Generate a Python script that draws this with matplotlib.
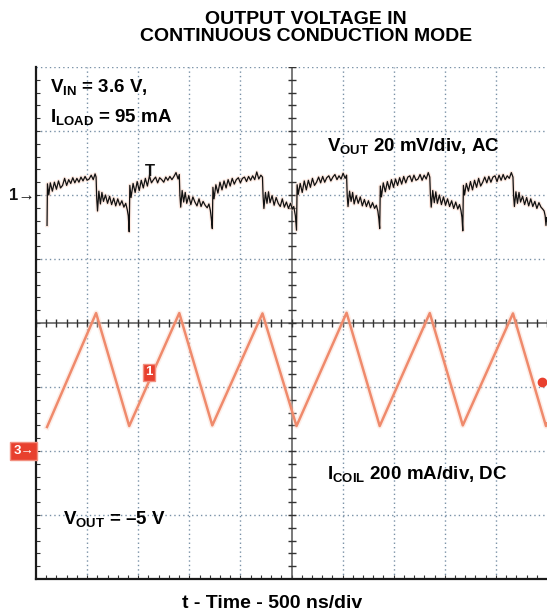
import numpy as np
import matplotlib
matplotlib.use("Agg")
import matplotlib.pyplot as plt

plt.rcParams['font.family'] = ['Liberation Sans', 'DejaVu Sans']
plt.rcParams['mathtext.fontset'] = 'custom'
plt.rcParams['mathtext.rm'] = 'Liberation Sans'
plt.rcParams['mathtext.bf'] = 'Liberation Sans:bold'

# ---------------- data ----------------
# time in ns (500 ns/div), screen spans 0..5000 ns
# Channel 1: VOUT ripple (mV, AC coupled, 20 mV/div, ref at +2 div)
vout_t = [108, 112, 125, 140, 160, 180, 200, 220, 240, 260, 280, 300, 320, 340, 360, 380,
          400, 420, 440, 460, 480, 500, 520, 540, 560, 578, 588,
          594, 602, 615, 630, 645, 660, 680, 700, 720, 740, 760, 780, 800, 820, 840, 860,
          878, 893, 903, 912,
          918, 930, 950, 970, 990, 1010, 1030, 1050, 1070, 1090, 1110, 1130, 1150, 1170,
          1190, 1210, 1230, 1250, 1270, 1290, 1310, 1330, 1350, 1370, 1390, 1402,
          1408, 1416, 1430, 1445, 1460, 1475, 1495, 1515, 1535, 1555, 1575, 1595, 1615,
          1635, 1655, 1675, 1692, 1706, 1716, 1725,
          1731, 1742, 1760, 1780, 1800, 1820, 1840, 1860, 1880, 1900, 1920, 1940, 1960,
          1980, 2000, 2020, 2040, 2060, 2080, 2100, 2120, 2140, 2160, 2180, 2200, 2216,
          2222, 2230, 2245, 2260, 2275, 2290, 2310, 2330, 2350, 2370, 2390, 2410, 2430,
          2450, 2470, 2490, 2508, 2522, 2538, 2549,
          2555, 2566, 2585, 2605, 2625, 2645, 2665, 2685, 2705, 2725, 2745, 2765, 2785,
          2805, 2825, 2845, 2865, 2885, 2905, 2925, 2945, 2965, 2985, 3005, 3025, 3039,
          3045, 3053, 3068, 3083, 3098, 3113, 3133, 3153, 3173, 3193, 3213, 3233, 3253,
          3273, 3293, 3313, 3330, 3345, 3355, 3363,
          3369, 3380, 3398, 3418, 3438, 3458, 3478, 3498, 3518, 3538, 3558, 3578, 3598,
          3618, 3638, 3658, 3678, 3698, 3718, 3738, 3758, 3778, 3798, 3818, 3838, 3853,
          3859, 3867, 3882, 3897, 3912, 3927, 3947, 3967, 3987, 4007, 4027, 4047, 4067,
          4087, 4107, 4127, 4144, 4158, 4168, 4176,
          4182, 4193, 4211, 4231, 4251, 4271, 4291, 4311, 4331, 4351, 4371, 4391, 4411,
          4431, 4451, 4471, 4491, 4511, 4531, 4551, 4571, 4591, 4611, 4631, 4651, 4667,
          4673, 4681, 4696, 4711, 4726, 4741, 4761, 4781, 4801, 4821, 4841, 4861, 4881,
          4901, 4921, 4941, 4958, 4972, 4982, 4990, 4996, 5000]
vout_mv = [-9.5, 3.5, 0.0, 3.8, 1.2, 4.0, 1.8, 4.4, 2.2, 3.0, 5.2, 3.0, 4.8, 3.6, 5.4, 3.8,
           5.2, 4.0, 5.6, 4.4, 5.8, 4.6, 5.0, 6.2, 4.8, 6.6, 5.6,
           -1.0, -5.0, 1.2, -2.8, 0.8, -2.0, 0.0, -2.6, -0.4, -3.0, -1.0, -3.4, -1.2, -3.2,
           -1.8, -3.8, -2.6, -4.6, -6.5, -11.5,
           3.0, -0.8, 3.6, 0.8, 4.2, 1.4, 4.6, 2.2, 5.2, 2.8, 6.0, 3.8, 4.8, 5.6, 3.8,
           5.4, 4.8, 4.0, 5.6, 4.6, 5.8, 4.8, 5.8, 7.0, 5.0, 6.4,
           0.0, -3.8, 1.4, -2.2, 0.8, -2.6, -0.2, -3.0, -0.6, -2.2, -3.4, -1.2, -3.6,
           -2.0, -3.2, -4.0, -2.8, -4.8, -7.5, -10.5,
           2.4, -1.2, 3.2, 0.6, 4.0, 1.6, 4.4, 2.2, 4.8, 2.8, 5.2, 3.4, 4.8,
           5.4, 3.8, 5.2, 5.6, 4.2, 5.8, 4.6, 6.0, 4.8, 7.2, 5.0, 6.2, 5.6,
           -0.4, -4.2, 0.8, -2.6, 1.0, -2.4, -0.2, -3.2, -0.8, -2.6, -3.6, -1.2, -3.8,
           -2.2, -4.2, -2.6, -4.4, -3.6, -6.5, -11.0,
           3.2, 0.2, 3.6, 0.8, 4.4, 1.6, 4.6, 2.4, 5.2, 3.0, 4.0, 5.6, 3.8,
           5.8, 4.0, 5.4, 6.0, 4.4, 5.6, 6.4, 4.8, 6.0, 5.0, 6.8, 5.2, 6.2,
           -0.2, -3.6, 1.2, -2.0, 0.8, -2.8, -0.2, -2.6, -0.6, -3.4, -1.4, -3.6, -1.8,
           -4.0, -2.4, -4.2, -3.2, -5.0, -7.5, -10.5,
           2.8, -0.6, 3.8, 1.0, 4.2, 1.8, 4.8, 2.4, 5.0, 3.0, 5.4, 3.4, 5.8,
           3.8, 5.6, 6.0, 4.2, 6.2, 4.6, 5.0, 6.4, 4.6, 6.2, 5.0, 7.0, 5.6,
           0.2, -3.8, 1.4, -2.4, 1.0, -2.6, 0.0, -3.0, -0.6, -3.2, -1.2, -3.6, -1.8,
           -4.2, -2.2, -4.4, -3.0, -4.8, -7.0, -11.2,
           3.0, 0.0, 3.6, 1.2, 4.2, 1.6, 4.6, 2.4, 5.2, 2.8, 4.0, 5.6, 3.8,
           5.8, 4.0, 5.6, 6.0, 4.2, 6.2, 4.6, 6.4, 4.8, 6.0, 5.2, 7.0, 5.6,
           -0.2, -3.6, 1.0, -2.6, 0.8, -2.2, -0.4, -3.0, -0.8, -3.4, -1.2, -3.6, -2.0,
           -4.2, -2.4, -3.8, -4.4, -5.0, -6.5, -9.5, -7.0, -8.0]

# Channel 3: inductor current (mA, DC coupled, 200 mA/div, ref at -2 div)
coil_t = [108, 588, 912, 1402, 1725, 2216, 2549, 3039, 3363, 3853, 4176, 4667, 4990, 5000]
coil_ma = [75, 431, 78, 431, 80, 430, 78, 432, 78, 431, 80, 430, 78, 86]

# scope settings
t_per_div = 500.0
ch1_mv_per_div, ch1_ref_div = 20.0, 2.0
ch3_ma_per_div, ch3_ref_div = 200.0, -2.0

title = "OUTPUT VOLTAGE IN\nCONTINUOUS CONDUCTION MODE"
xlabel = "t - Time - 500 ns/div"

# ---------------- figure ----------------
W, H = 547, 616
fig = plt.figure(figsize=(W / 100, H / 100), dpi=100)
L, R, T, B = 36, 547, 67, 579
ax = fig.add_axes([L / W, 1 - B / H, (R - L) / W, (B - T) / H])
ax.set_xlim(0, 10 * t_per_div)
ax.set_ylim(-4, 4)

grid_col = '#7890a6'
for k in range(1, 10):
    if k != 5:
        ax.axvline(k * t_per_div, color=grid_col, lw=1.0, ls=(0, (1, 2.2)), zorder=1)
for k in range(-3, 5):
    if k != 0:
        ax.axhline(k, color=grid_col, lw=1.0, ls=(0, (1, 2.2)), zorder=1)

# center crosshair with minor ticks
ax.axhline(0, color='#555555', lw=1.1, zorder=2)
ax.axvline(5 * t_per_div, color='#555555', lw=1.1, zorder=2)
mx = np.arange(0, 10 * t_per_div + 1, t_per_div / 5)
my = np.arange(-4, 4.01, 0.2)
ax.plot(mx, np.zeros_like(mx), ls='none', marker='|', ms=6, mew=1.0, color='#333333', zorder=2)
ax.plot(np.full_like(my, 5 * t_per_div), my, ls='none', marker='_', ms=6, mew=1.0,
        color='#333333', zorder=2)

for s in ['top', 'right']:
    ax.spines[s].set_visible(False)
for s in ['left', 'bottom']:
    ax.spines[s].set_color('#1a1a1a')
    ax.spines[s].set_linewidth(1.6)
ax.set_xticks(mx[1:-1])
ax.set_yticks(my[1:-1])
ax.tick_params(direction='in', length=3, width=0.8, color='#333333',
               labelbottom=False, labelleft=False)

# traces
coil_div = ch3_ref_div + np.array(coil_ma) / ch3_ma_per_div
vout_div = ch1_ref_div + np.array(vout_mv) / ch1_mv_per_div
ax.plot(coil_t, coil_div, color='#fbd5c6', lw=4, alpha=0.4, zorder=3, solid_joinstyle='round')
ax.plot(coil_t, coil_div, color='#ef8a6c', lw=1.8, zorder=4, solid_joinstyle='round')
ax.plot(vout_t, vout_div, color='#f8d2c2', lw=2.6, alpha=0.5, zorder=4)
ax.plot(vout_t, vout_div, color='#111111', lw=0.9, zorder=5)

# trigger "T" marker on trace
ax.text(1115, 2.25, 'T', ha='center', va='bottom', fontsize=12, fontweight='bold',
        color='#111111', zorder=6)

# channel markers
ax.text(-0.003, ch1_ref_div, '1\u2192', transform=ax.get_yaxis_transform(), ha='right',
        va='center', fontsize=12, fontweight='bold', color='#111111', clip_on=False)
ax.text(-0.004, ch3_ref_div, '3\u2192', transform=ax.get_yaxis_transform(), ha='right',
        va='center', fontsize=9.5, fontweight='bold', color='white', clip_on=False,
        bbox=dict(boxstyle='square,pad=0.22', fc='#e8402e', ec='#f29080', lw=1))
ax.text(1106, -0.77, '1', ha='center', va='center', fontsize=9.5, fontweight='bold',
        color='white', zorder=7,
        bbox=dict(boxstyle='square,pad=0.2', fc='#e8402e', ec='#f29080', lw=1))
ax.plot([4951], [-0.92], marker='o', ms=6, color='#e8402e', clip_on=False, zorder=7)

# annotations
def fx(px):
    return (px - L) / (R - L)

def fy(py):
    return (B - py) / (B - T)

fs = 13.5
ax.text(fx(50), fy(93), r'$\mathbf{V}_{\mathbf{IN}}$ = 3.6 V,', transform=ax.transAxes,
        fontsize=fs, fontweight='bold', va='baseline', ha='left', zorder=8)
ax.text(fx(50), fy(123), r'$\mathbf{I}_{\mathbf{LOAD}}$ = 95 mA', transform=ax.transAxes,
        fontsize=fs, fontweight='bold', va='baseline', ha='left', zorder=8)
ax.text(fx(327), fy(152), r'$\mathbf{V}_{\mathbf{OUT}}$ 20 mV/div, AC', transform=ax.transAxes,
        fontsize=fs, fontweight='bold', va='baseline', ha='left', zorder=8)
ax.text(fx(327), fy(480), r'$\mathbf{I}_{\mathbf{COIL}}$ 200 mA/div, DC', transform=ax.transAxes,
        fontsize=fs, fontweight='bold', va='baseline', ha='left', zorder=8)
ax.text(fx(63), fy(525), r'$\mathbf{V}_{\mathbf{OUT}}$ = ' + '\u20135 V',
        transform=ax.transAxes, fontsize=fs, fontweight='bold', va='baseline', ha='left', zorder=8)

fig.text(306 / W, 1 - 28 / H, title, ha='center', va='center', fontsize=14,
         fontweight='bold', linespacing=0.95)
fig.text(272 / W, 1 - 603 / H, xlabel, ha='center', va='center', fontsize=14,
         fontweight='bold')

fig.savefig('out.png', dpi=100)
